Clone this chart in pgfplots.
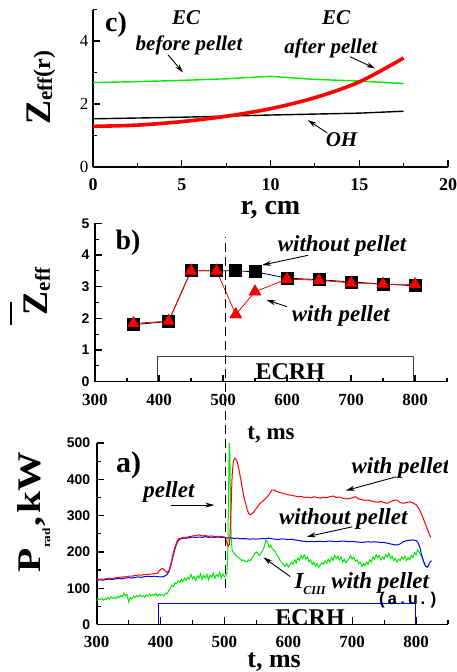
\documentclass[border=0pt]{standalone}
\usepackage{fontspec}
\setmainfont{Liberation Serif}
\setsansfont{Liberation Sans}
\setmonofont{Liberation Mono}
\usepackage{pgfplots}
\pgfplotsset{compat=1.18}
\usetikzlibrary{arrows.meta}
\newcommand\fs[1]{\fontsize{#1}{#1}\selectfont}

\pgfplotsset{
  panel/.style={scale only axis, anchor=south west, axis lines*=left,
    axis line style={line width=1.6pt}, tick style={line width=1.2pt, black},
    major tick length=7pt, minor tick length=4pt, tick align=inside,
    /pgf/number format/assume math mode=true, /pgf/number format/1000 sep={}},
}
\tikzset{
  lbl/.style={font=\fs{23}\bfseries\itshape},
  arr/.style={-{Stealth[length=9pt,width=5pt]}, line width=0.9pt},
}
\definecolor{lgreen}{RGB}{0,235,0}

\begin{document}
\begin{tikzpicture}
\useasboundingbox (0,0) rectangle (456pt,672pt);

% ---------- c) Zeff(r)
\begin{axis}[panel, at={(93pt,505pt)}, width=355pt, height=157.5pt,
  xmin=0, xmax=20, ymin=0, ymax=5,
  xtick={0,5,...,20}, minor xtick={2.5,7.5,12.5,17.5},
  ytick={0,2,4}, minor ytick={1,3,5},
  xticklabel style={font=\fs{18}\bfseries, inner sep=0pt, yshift=-11.5pt},
  yticklabel style={font=\fs{17}, xshift=-1pt},
  xlabel={\fs{28}\bfseries r, cm},
  xlabel style={at={(axis description cs:0.5,-0.30)}, anchor=base, inner sep=0pt},
  ylabel={\bfseries\fs{36}Z\raisebox{-2pt}{\fs{21}eff}\fs{24}(r)},
  ylabel style={at={(axis description cs:-0.121,0.505)}, anchor=base, rotate=0}]
\addplot[lgreen, line width=1.4pt] coordinates {(0,2.68)(2.5,2.71)(5,2.75)(7.5,2.80)(10,2.88)(12.5,2.78)(15,2.73)(17.5,2.65)};
\addplot[black, line width=1.4pt] coordinates {(0,1.53)(5,1.58)(10,1.65)(15,1.71)(17.5,1.77)};
\addplot[red, line width=3.6pt, smooth] coordinates {(0,1.29)(2.5,1.33)(5,1.44)(7.5,1.61)(10,1.85)(12.5,2.20)(15,2.70)(17.5,3.46)};
\node[font=\fs{28}\bfseries] at (axis cs:1.3,4.52) {c)};
\node[font=\fs{21}\bfseries\itshape] at (axis cs:5.24,4.75) {EC};
\node[font=\fs{21}\bfseries\itshape] at (axis cs:5.41,3.87) {before pellet};
\node[font=\fs{21}\bfseries\itshape] at (axis cs:13.7,4.75) {EC};
\node[font=\fs{21}\bfseries\itshape] at (axis cs:13.4,3.76) {after pellet};
\node[font=\fs{21}\bfseries\itshape] at (axis cs:14.0,0.86) {OH};
\draw[arr] (axis cs:4.23,3.56) -- (axis cs:5.07,3.0);
\draw[arr] (axis cs:14.48,3.5) -- (axis cs:15.9,3.13);
\draw[arr] (axis cs:13.2,1.08) -- (axis cs:12.1,1.49);
\end{axis}

% ---------- b) mean Zeff(t)
\begin{axis}[panel, at={(95pt,290.3pt)}, width=352pt, height=158.4pt,
  xmin=300, xmax=850, ymin=0, ymax=5,
  xtick={300,400,...,800}, minor xtick={350,450,...,850},
  ytick={0,...,5}, minor ytick={0.5,1.5,...,4.5},
  xticklabel style={font=\fs{17}\bfseries, inner sep=0pt, yshift=-12.5pt},
  yticklabel style={font=\fs{14}\sffamily\bfseries, xshift=-2pt},
  xlabel={\fs{23}\bfseries t, ms},
  xlabel style={at={(axis description cs:0.5,-0.362)}, anchor=base, inner sep=0pt},
  ylabel={\bfseries\makebox[0pt][l]{\hspace{-10pt}\raisebox{36pt}{\rule{23pt}{2pt}}}\fs{36}Z\raisebox{-2pt}{\fs{21}eff}},
  ylabel style={at={(axis description cs:-0.134,0.57)}, anchor=base, rotate=0}]
\draw[gray!50!black, line width=0.8pt] (axis cs:397,0) -- (axis cs:397,0.79) -- (axis cs:797,0.79) -- (axis cs:797,0);
\node[font=\fs{24}\bfseries] at (axis cs:605,0.32) {ECRH};
\addplot[black, line width=0.8pt, mark=square*, mark size=6pt, mark options={solid}]
  coordinates {(360,1.8)(415,1.9)(450,3.5)(490,3.5)(520,3.5)(550,3.47)(600,3.27)(650,3.22)(700,3.15)(750,3.08)(800,3.03)};
\addplot[red, line width=0.8pt, mark=triangle*, mark size=7pt, mark options={fill=red, draw=red!70!black, line width=0.4pt}]
  coordinates {(360,1.84)(415,1.91)(450,3.5)(490,3.5)(520,2.12)(550,2.84)(600,3.24)(650,3.2)(700,3.12)(750,3.08)(800,3.07)};
\node[font=\fs{28}\bfseries] at (axis cs:351.6,4.38) {b)};
\node[lbl] at (axis cs:686,4.28) {without pellet};
\node[lbl] at (axis cs:684,2.06) {with pellet};
\draw[arr] (axis cs:633,3.99) -- (axis cs:561,3.68);
\draw[arr] (axis cs:600,2.37) -- (axis cs:568,2.58);
\end{axis}

% ---------- a) Prad(t)
\begin{axis}[panel, at={(96.7pt,47.5pt)}, width=351.3pt, height=181.5pt,
  xmin=300, xmax=850, ymin=0, ymax=500,
  xtick={300,400,...,800}, minor xtick={350,450,...,850},
  ytick={0,100,...,500}, minor ytick={50,150,...,450},
  xticklabel style={font=\fs{17}\bfseries, inner sep=0pt, yshift=-11pt},
  yticklabel style={font=\fs{14}\sffamily\bfseries, xshift=-3pt},
  xlabel={\fs{26}\bfseries t, ms},
  xlabel style={at={(axis description cs:0.505,-0.236)}, anchor=base, inner sep=0pt},
  ylabel={\bfseries\scalebox{1.2}[1]{\fs{33}P\raisebox{-10pt}{\fs{11}rad}\hspace{1pt},\hspace{3pt}kW}},
  ylabel style={at={(axis description cs:-0.161,0.62)}, anchor=base, rotate=0}]
\draw[blue, line width=1pt] (axis cs:397,0) -- (axis cs:397,58) -- (axis cs:799,58) -- (axis cs:799,0);
\node[font=\fs{24}\bfseries] at (axis cs:634,20) {ECRH};
\node[font=\fs{17}\ttfamily\bfseries] at (axis cs:787,67) {(a.u.)};
% I_CIII with pellet
\addplot[lgreen, line width=1pt] coordinates {
(300,66)(302.5,70)(305,68)(307.5,72)(310,67)(312.5,71)(315,69)(317.5,74)(320,70)(322.5,76)
(325,72)(327.5,75)(330,71)(332.5,78)(335,74)(337.5,80)(340,76)(342.5,86)(345,79)(347.5,83)
(350,62)(352.5,74)(355,70)(357.5,78)(360,74)(362.5,80)(365,76)(367.5,82)(370,77)(372.5,79)
(375,75)(377.5,81)(380,78)(382.5,84)(385,79)(387.5,83)(390,80)(392.5,86)(395,78)(397.5,84)
(400,80)(402.5,82)(405,79)(407.5,86)(410,84)(412.5,92)(415,98)(417.5,108)(420,104)(422.5,115)
(425,112)(427.5,120)(430,116)(432.5,124)(435,118)(437.5,128)(440,122)(442.5,130)(445,125)(447.5,138)
(450,126)(452.5,132)(455,121)(457.5,134)(460,128)(462.5,140)(465,125)(467.5,135)(470,128)(472.5,138)
(475,123)(477.5,136)(480,130)(482.5,142)(485,127)(487.5,137)(490,132)(492.5,143)(495,128)(497.5,139)
(500,131)(502.5,136)(504,140)(505.5,220)(506.5,380)(507.5,500)(508.5,470)(509.5,330)(510.5,240)(512,205)
(514,198)(516,195)(518,190)(520,186)(522.5,184)(525,180)(527.5,176)(530,178)(532.5,174)(535,172)
(537.5,178)(540,175)(542.5,182)(545,188)(547.5,196)(550,200)(552.5,195)(555,190)(557.5,196)(560,205)
(562.5,215)(565,232)(567.5,228)(570,212)(572.5,218)(575,208)(577.5,205)(580,200)(582.5,190)(585,185)
(587.5,175)(590,170)(592.5,165)(595,160)(597.5,168)(600,158)(602.5,165)(605,172)(607.5,166)(610,178)
(612.5,170)(615,184)(617.5,176)(620,190)(622.5,182)(625,192)(627.5,180)(630,186)(632.5,172)(635,178)
(637.5,165)(640,172)(642.5,160)(645,168)(647.5,158)(650,164)(652.5,170)(655,166)(657.5,175)(660,168)
(662.5,180)(665,172)(667.5,185)(670,176)(672.5,190)(675,182)(677.5,188)(680,178)(682.5,186)(685,172)
(687.5,180)(690,170)(692.5,176)(695,182)(697.5,190)(700,180)(702.5,186)(705,174)(707.5,178)(710,168)
(712.5,172)(715,160)(717.5,168)(720,162)(722.5,172)(725,166)(727.5,178)(730,172)(732.5,186)(735,180)
(737.5,192)(740,184)(742.5,190)(745,178)(747.5,186)(750,180)(752.5,192)(755,186)(757.5,196)(760,182)
(762.5,188)(765,176)(767.5,182)(770,172)(772.5,180)(775,176)(777.5,186)(780,180)(782.5,188)(785,176)
(787.5,184)(790,178)(792.5,190)(795,184)(797.5,198)(800,192)(802.5,206)(805,198)(807.5,190)(810,182)
(812.5,172)(815,162)(817.5,158)};
% without pellet
\addplot[blue, line width=1pt] coordinates {
(300,122)(305,123)(310,122)(315,124)(320,125)(325,124)(330,126)(335,127)(340,126)(345,128)
(350,129)(355,128)(360,130)(365,131)(370,130)(375,132)(380,133)(385,132)(390,133)(395,132)
(400,131)(405,132)(410,137)(413,145)(416,162)(419,185)(422,205)(425,222)(428,232)(432,236)
(436,238)(440,238)(445,239)(450,241)(455,240)(460,241)(465,240)(470,242)(475,240)(480,241)
(485,240)(490,241)(495,240)(500,240)(505,238)(510,239)(515,237)(520,238)(525,236)(530,237)
(535,236)(540,235)(545,236)(550,235)(555,236)(560,237)(565,236)(570,238)(575,236)(580,235)
(585,234)(590,236)(595,235)(600,234)(605,235)(610,233)(615,232)(620,230)(625,229)(630,228)
(635,229)(640,228)(645,229)(650,229)(655,228)(660,229)(665,230)(670,229)(675,228)(680,229)
(685,230)(690,229)(695,228)(700,229)(705,228)(710,227)(715,226)(720,227)(725,228)(730,227)
(735,228)(740,227)(745,226)(750,226)(755,224)(760,222)(765,220)(770,219)(775,222)(780,228)
(785,231)(790,232)(795,233)(800,231)(803,226)(806,212)(809,190)(812,172)(815,160)(818,158)
(821,170)(824,176)};
% with pellet
\addplot[red, line width=1pt] coordinates {
(300,124)(305,125)(310,125)(315,126)(320,127)(325,127)(330,129)(335,130)(340,131)(345,131)
(350,133)(355,133)(360,135)(365,136)(370,136)(375,138)(380,138)(385,139)(390,140)(395,141)
(398,148)(401,153)(404,154)(407,148)(410,143)(413,148)(416,165)(419,190)(422,210)(425,226)
(428,236)(432,238)(436,240)(440,240)(445,242)(450,244)(455,245)(460,247)(465,244)(470,245)
(475,243)(480,244)(485,242)(490,243)(495,242)(500,241)(502,236)(504,224)(506,215)(508,222)
(510,300)(512,410)(514,450)(516,458)(518,455)(520,448)(523,425)(526,395)(530,355)(535,320)
(538,305)(541,302)(545,308)(550,320)(555,332)(560,340)(565,348)(570,358)(574,370)(578,370)
(582,366)(586,364)(590,362)(595,360)(600,357)(605,356)(610,354)(615,352)(620,353)(625,350)
(630,351)(635,349)(640,352)(645,350)(650,348)(655,351)(660,349)(665,352)(670,354)(675,350)
(680,351)(685,348)(690,346)(695,347)(700,349)(705,352)(710,346)(715,344)(720,342)(725,343)
(730,340)(735,338)(740,337)(745,339)(750,336)(755,334)(760,338)(765,342)(770,343)(775,336)
(780,334)(785,336)(790,338)(795,335)(800,330)(805,318)(810,298)(815,275)(820,252)(823,240)};
\node[font=\fs{30}\bfseries] at (axis cs:350,439) {a)};
\node[lbl] at (axis cs:413,366) {pellet};
\draw[arr] (axis cs:416,329) -- (axis cs:484,329);
\node[lbl] at (axis cs:775.5,430) {with pellet};
\draw[arr] (axis cs:769,407) -- (axis cs:690,369);
\node[lbl] at (axis cs:686,291) {without pellet};
\draw[arr] (axis cs:700,269) -- (axis cs:629,242);
\node[lbl] at (axis cs:715,114) {I\raisebox{-6pt}{\fs{12}CIII} with pellet};
\draw[arr] (axis cs:603,132) -- (axis cs:561,185);
\coordinate (d1) at (axis cs:502,100);
\coordinate (d2) at (axis cs:502,1067);
\end{axis}
\draw[black, line width=1.5pt, dash pattern=on 9pt off 5pt] (d1) -- (d2);
\end{tikzpicture}
\end{document}
